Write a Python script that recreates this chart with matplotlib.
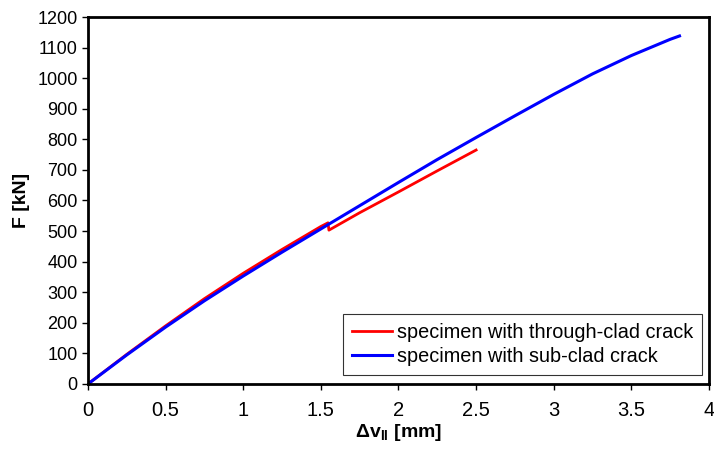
import matplotlib
matplotlib.use('Agg')
import matplotlib.pyplot as plt

plt.rcParams['font.family'] = ['Liberation Sans', 'DejaVu Sans']
plt.rcParams['mathtext.fontset'] = 'custom'
plt.rcParams['mathtext.rm'] = 'Liberation Sans'
plt.rcParams['mathtext.bf'] = 'Liberation Sans:bold'

# through-clad crack specimen (red)
dv_through = [0, 0.25, 0.5, 0.75, 1.0, 1.25, 1.5, 1.546, 1.552, 1.75, 2.0, 2.25, 2.5]
f_through = [0, 97, 190, 279, 362, 440, 515, 527, 503, 560, 628, 697, 765]

# sub-clad crack specimen (blue)
dv_sub = [0, 0.25, 0.5, 0.75, 1.0, 1.25, 1.5, 1.75, 2.0, 2.25, 2.5, 2.75, 3.0, 3.25, 3.5, 3.75, 3.81]
f_sub = [0, 95, 186, 272, 353, 431, 507, 583, 659, 734, 806, 877, 947, 1014, 1074, 1127, 1138]

labels = ['specimen with through-clad crack', 'specimen with sub-clad crack']

fig = plt.figure(figsize=(7.14, 4.51), dpi=100)
ax = fig.add_axes([0.1232, 0.1486, 0.8698, 0.8137])

ax.plot(dv_through, f_through, color='#ff0000', lw=2.0, label=labels[0])
ax.plot(dv_sub, f_sub, color='#0000ff', lw=2.2, label=labels[1])

ax.set_xlim(0, 4)
ax.set_ylim(0, 1200)
ax.set_xticks([0, 0.5, 1, 1.5, 2, 2.5, 3, 3.5, 4])
ax.set_xticklabels(['0', '0.5', '1', '1.5', '2', '2.5', '3', '3.5', '4'])
ax.set_yticks(range(0, 1201, 100))

for s in ax.spines.values():
    s.set_linewidth(2.0)
ax.tick_params(axis='y', direction='out', length=4.5, width=1, labelsize=13, pad=3)
ax.tick_params(axis='x', direction='out', length=4.5, width=1, labelsize=14.5, pad=8)

ax.set_xlabel(r'$\mathbf{\Delta v_{II}}$ [mm]', fontsize=14, fontweight='bold', labelpad=1)
ax.set_ylabel('F [kN]', fontsize=14, fontweight='bold', labelpad=5)

leg = ax.legend(loc='lower right', bbox_to_anchor=(0.989, 0.0245),
                fontsize=14.3, frameon=True, fancybox=False, edgecolor='black',
                handlelength=2.0, handletextpad=0.25, borderaxespad=0, labelspacing=0.25,
                borderpad=0.45)
leg.get_frame().set_linewidth(0.8)

fig.savefig('out.png', dpi=100)
